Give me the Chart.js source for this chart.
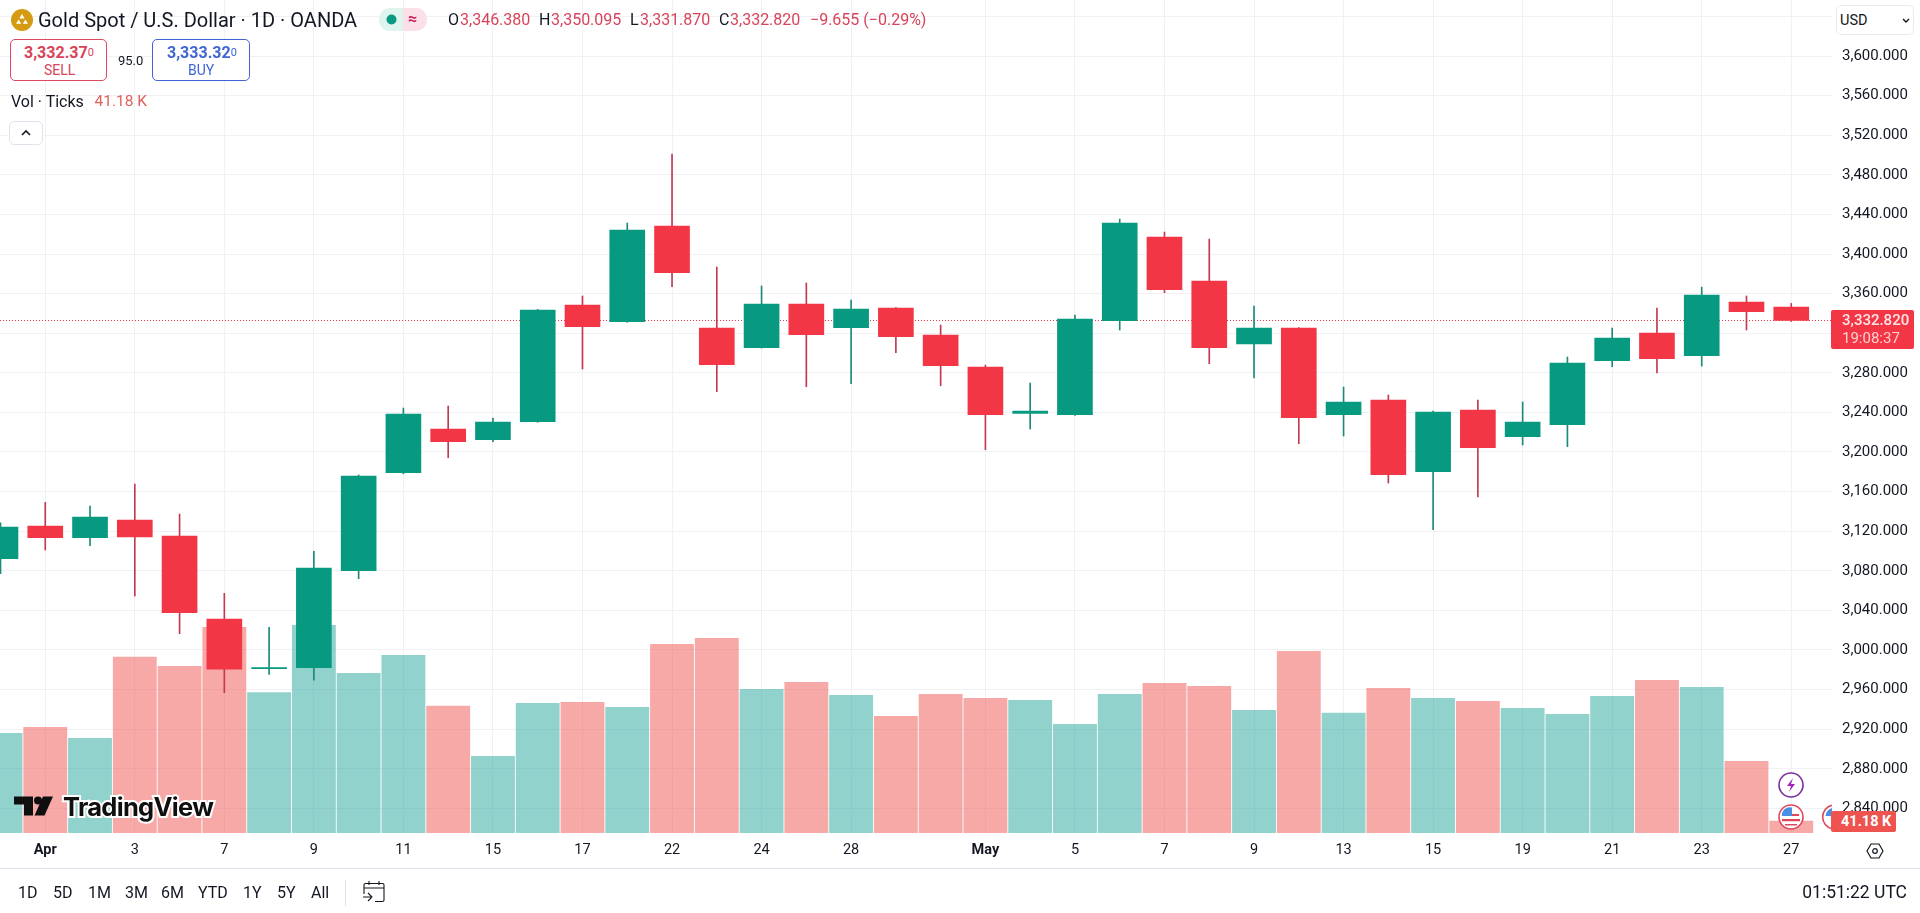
<!DOCTYPE html>
<html>
<head>
<meta charset="utf-8">
<title>Gold Spot / U.S. Dollar</title>
<script src="https://cdn.jsdelivr.net/npm/chart.js@4"></script>
<style>
html,body{margin:0;padding:0;background:#fff;width:1920px;height:913px;overflow:hidden;font-family:Roboto,sans-serif;color:#131722}
#wrap{position:relative;width:1920px;height:913px}
canvas{position:absolute;left:0;top:0;display:block}
.t{position:absolute;white-space:nowrap;line-height:1;transform:translateY(-50%)}
.box{position:absolute;box-sizing:border-box;background:#fff;border-radius:5px}
svg.i{position:absolute;overflow:visible}
.red{color:#d9435a}
</style>
</head>
<body>
<div id="wrap">
<canvas id="c" width="1920" height="913"></canvas>

<svg class="i" style="left:11px;top:9px" width="22" height="22" viewBox="0 0 22 22"><circle cx="11" cy="11" r="11" fill="#d49a12"/><path d="M11 5l2.6 4.4H8.4zM7.6 10.4l2.6 4.4H5zM14.4 10.4l2.6 4.4h-5.2z" fill="#fff"/></svg>
<div class="t" style="left:38px;top:20px;font-size:20px">Gold Spot / U.S. Dollar · 1D · OANDA</div>
<div class="box" style="left:379px;top:8px;width:24px;height:23px;background:#dff3ef;border-radius:11px 0 0 11px"></div>
<div class="box" style="left:403px;top:8px;width:24px;height:23px;background:#fbe0e7;border-radius:0 11px 11px 0"></div>
<svg class="i" style="left:386px;top:14px" width="11" height="11"><circle cx="5.5" cy="5.5" r="5" fill="#089981"/></svg>
<div class="t" style="left:408px;top:19px;font-size:16px;color:#c2185b;font-weight:700">≈</div>

<div class="t" style="left:448px;top:20px;font-size:16px">O</div><div class="t red" style="left:460px;top:20px;font-size:16px">3,346.380</div>
<div class="t" style="left:539px;top:20px;font-size:16px">H</div><div class="t red" style="left:551px;top:20px;font-size:16px">3,350.095</div>
<div class="t" style="left:630px;top:20px;font-size:16px">L</div><div class="t red" style="left:640px;top:20px;font-size:16px">3,331.870</div>
<div class="t" style="left:719px;top:20px;font-size:16px">C</div><div class="t red" style="left:730px;top:20px;font-size:16px">3,332.820</div>
<div class="t red" style="left:810px;top:20px;font-size:16px">−9.655 (−0.29%)</div>

<div class="box" style="left:10px;top:39px;width:97px;height:42px;border:1px solid #dc4a62"></div>
<div class="t red" style="left:24px;top:53px;font-size:16px;font-weight:700">3,332.37<span style="font-size:11px;font-weight:400;position:relative;top:-2px">0</span></div>
<div class="t red" style="left:44px;top:70px;font-size:14px">SELL</div>
<div class="t" style="left:118px;top:60px;font-size:13px">95.0</div>
<div class="box" style="left:152px;top:39px;width:98px;height:42px;border:1px solid #3f66d4"></div>
<div class="t" style="left:167px;top:53px;font-size:16px;font-weight:700;color:#3f66d4">3,333.32<span style="font-size:11px;font-weight:400;position:relative;top:-2px">0</span></div>
<div class="t" style="left:188px;top:70px;font-size:14px;color:#3f66d4">BUY</div>

<div class="t" style="left:11px;top:102px;font-size:16px">Vol · Ticks</div>
<div class="t" style="left:94.500px;top:102px;font-size:15.500px;color:#e0605c">41.18 K</div>
<div class="box" style="left:9px;top:121px;width:34px;height:24px;border:1px solid #e0e3eb"></div>
<svg class="i" style="left:21px;top:129px" width="10" height="7"><path d="M1 6l4-4 4 4" fill="none" stroke="#131722" stroke-width="1.6"/></svg>

<div class="box" style="left:1836px;top:5px;width:78px;height:30px;border:1px solid #e8eaf0"></div>
<div class="t" style="left:1840px;top:21px;font-size:14.500px">USD</div>
<svg class="i" style="left:1902px;top:18px" width="8" height="6"><path d="M1 1l3 3 3-3" fill="none" stroke="#131722" stroke-width="1.4"/></svg>

<div class="box" style="left:1831px;top:310px;width:83px;height:39px;background:#f23645;border-radius:2px"></div>
<div class="t" style="left:1842px;top:320px;font-size:15px;font-weight:500;color:#ffe6e6">3,332.820</div>
<div class="t" style="left:1842px;top:338px;font-size:15px;color:#ffd0d0">19:08:37</div>

<svg class="i" style="left:14px;top:795px" width="40" height="22" viewBox="0 0 40 22"><path d="M0 1.500h19v19H10V9.500H0z" fill="#0f0f0f"/><circle cx="24" cy="5.500" r="4" fill="#0f0f0f"/><path d="M29 1.500h10l-8.500 19H20.500z" fill="#0f0f0f"/></svg>
<div class="t" style="left:63px;top:807px;font-family:Inter,sans-serif;font-size:25.500px;font-weight:700;letter-spacing:-.7px;color:#0f0f0f;-webkit-text-stroke:4px #fff;paint-order:stroke fill">TradingView</div>

<svg class="i" style="left:1778px;top:772px" width="26" height="26" viewBox="0 0 26 26"><circle cx="13" cy="13" r="12" fill="#fff" stroke="#7b2d9e" stroke-width="1.6"/><path d="M15 6l-6 8h4l-2 6 6-8h-4z" fill="#9c27b0"/></svg>
<svg class="i" style="left:1778px;top:804px" width="26" height="26" viewBox="0 0 26 26"><circle cx="13" cy="13" r="12" fill="#fff" stroke="#e0455a" stroke-width="1.6"/><path d="M5 10h16v2H5zM4 15h18v2.200H4zM7 20h12v1.600H7z" fill="#e0455a"/><path d="M6 5.500A9.500 9.500 0 0 1 14 3.500V12H3.800A9.500 9.500 0 0 1 6 5.500z" fill="#4a90e2"/></svg>
<svg class="i" style="left:1822px;top:804px" width="10" height="26" viewBox="0 0 10 26"><path d="M10 1.300A12 12 0 0 0 10 24.700" fill="#fff" stroke="#e0455a" stroke-width="1.6"/><path d="M10 4A9.500 9.500 0 0 0 3.500 12H10z" fill="#4a90e2"/></svg>

<div class="box" style="left:1831px;top:811px;width:65px;height:21px;background:#ef5350;border-radius:2px"></div>
<div class="t" style="left:1841px;top:822px;font-size:14.500px;font-weight:700;color:#fff">41.18 K</div>

<svg class="i" style="left:1866px;top:843px" width="18" height="16" viewBox="0 0 18 16"><path d="M5 1h8l4 7-4 7H5L1 8z" fill="none" stroke="#131722" stroke-width="1.2"/><circle cx="9" cy="8" r="2.300" fill="none" stroke="#131722" stroke-width="1.200"/></svg>

<div class="box" style="left:0;top:868px;width:1920px;height:1px;background:#e0e3eb;border-radius:0"></div>
<div class="t" style="left:18px;top:893px;font-size:16px">1D</div>
<div class="t" style="left:53px;top:893px;font-size:16px">5D</div>
<div class="t" style="left:88px;top:893px;font-size:16px">1M</div>
<div class="t" style="left:125px;top:893px;font-size:16px">3M</div>
<div class="t" style="left:161px;top:893px;font-size:16px">6M</div>
<div class="t" style="left:198px;top:893px;font-size:16px">YTD</div>
<div class="t" style="left:243px;top:893px;font-size:16px">1Y</div>
<div class="t" style="left:277px;top:893px;font-size:16px">5Y</div>
<div class="t" style="left:311px;top:893px;font-size:16px">All</div>
<div class="box" style="left:345px;top:880px;width:1px;height:26px;background:#e0e3eb;border-radius:0"></div>
<svg class="i" style="left:362px;top:880px" width="24" height="24" viewBox="0 0 24 24"><path d="M2 14V5q0-1.500 1.500-1.500h17Q22 3.500 22 5v15q0 1.500-1.500 1.500H13M2 8h20M7 1v4M17 1v4M1 17h8M6 13l4 4-4 4" fill="none" stroke="#131722" stroke-width="1.100"/></svg>
<div class="t" style="right:13px;top:893px;font-size:17.500px">01:51:22 UTC</div>
</div>

<script>
const dates = ["Mar 31","Apr 1","Apr 2","Apr 3","Apr 4","Apr 7","Apr 8","Apr 9","Apr 10","Apr 11","Apr 14","Apr 15","Apr 16","Apr 17","Apr 21","Apr 22","Apr 23","Apr 24","Apr 25","Apr 28","Apr 29","Apr 30","May 1","May 2","May 5","May 6","May 7","May 8","May 9","May 12","May 13","May 14","May 15","May 16","May 19","May 20","May 21","May 22","May 23","May 26","May 27"];
const opens  = [3092.2,3125.2,3113.4,3131.3,3115.1,3031.3,2981.0,2982.1,3080.0,3179.0,3223.2,3212.4,3230.6,3348.5,3331.6,3428.3,3325.2,3305.3,3349.5,3325.5,3345.4,3318.2,3285.8,3238.9,3237.6,3332.6,3417.2,3372.7,3309.1,3325.2,3237.6,3252.5,3180.1,3242.4,3215.4,3227.5,3292.2,3320.2,3297.2,3351.5,3346.38];
const highs  = [3128.5,3149.1,3145.4,3167.6,3137.3,3057.2,3022.9,3099.6,3176.7,3244.4,3246.4,3234.3,3344.0,3357.6,3431.3,3501.0,3386.8,3367.7,3370.7,3353.5,3345.8,3328.3,3287.8,3269.7,3338.4,3435.3,3422.2,3415.1,3347.4,3325.6,3265.6,3257.5,3241.4,3252.5,3250.5,3295.9,3325.2,3345.4,3366.6,3357.6,3350.095];
const lows   = [3077.0,3101.0,3105.3,3054.5,3016.4,2956.8,2975.4,2969.6,3072.0,3178.0,3194.2,3210.4,3230.0,3283.8,3331.0,3367.0,3260.9,3305.0,3265.9,3269.0,3300.3,3266.9,3202.3,3223.2,3237.0,3323.2,3360.9,3289.2,3274.7,3208.3,3216.1,3168.6,3121.5,3154.5,3207.0,3205.3,3286.1,3279.8,3286.8,3323.2,3331.87];
const closes = [3124.2,3113.4,3134.3,3114.1,3037.6,2980.7,2982.1,3082.8,3175.7,3238.4,3210.4,3230.3,3343.4,3326.5,3424.2,3381.1,3288.1,3349.5,3318.5,3344.4,3316.4,3287.1,3237.6,3241.4,3334.3,3431.3,3363.9,3305.3,3325.2,3234.6,3250.5,3177.0,3240.4,3204.3,3230.3,3289.9,3315.1,3294.2,3358.6,3341.7,3332.82];
const volumes = [342,362,325,603,572,705,482,712,548,609,435,263,445,448,431,647,668,493,517,472,400,476,462,455,373,476,513,503,421,623,411,496,462,452,428,407,469,524,500,246,41.18];
const tickIndexes = [1,3,5,7,9,11,13,15,17,19,22,24,26,28,30,32,34,36,38,40];
const tickLabels = ["Apr","3","7","9","11","15","17","22","24","28","May","5","7","9","13","15","19","21","23","27"];
const priceTicks = [2840,2880,2920,2960,3000,3040,3080,3120,3160,3200,3240,3280,3320,3360,3400,3440,3480,3520,3560,3600,3640];

const UP = "#089981", DOWN = "#f23645";
const isUp = i => closes[i] >= opens[i];
const idx = dates.map((_, i) => i);
const xMin = -0.011, xMax = 40.91;
const lastClose = closes[closes.length - 1];

new Chart(document.getElementById("c"), {
  type: "bar",
  data: {
    datasets: [
      { label: "Volume", yAxisID: "yVol", order: 4, barThickness: 43.2,
        data: idx.map(i => ({ x: i, y: volumes[i] })),
        backgroundColor: idx.map(i => isUp(i) ? "rgba(38,166,154,0.5)" : "rgba(239,83,80,0.5)") },
      { label: "Last price", type: "line", yAxisID: "y", order: 3,
        data: [{ x: xMin, y: lastClose }, { x: xMax, y: lastClose }],
        borderColor: DOWN, borderWidth: 1, borderDash: [1, 2], pointRadius: 0, fill: false },
      { label: "Wick", yAxisID: "y", order: 2, barThickness: 1,
        data: idx.map(i => ({ x: i, y: [lows[i], highs[i]] })),
        backgroundColor: idx.map(i => isUp(i) ? "#1c8a78" : "#c23a50") },
      { label: "Body", yAxisID: "y", order: 1, barThickness: 35,
        data: idx.map(i => ({ x: i, y: [opens[i], closes[i]] })),
        backgroundColor: idx.map(i => isUp(i) ? UP : DOWN) }
    ]
  },
  options: {
    responsive: false, animation: false, events: [],
    layout: { padding: 0 },
    datasets: { bar: { grouped: false, borderWidth: 0, borderSkipped: false } },
    plugins: { legend: { display: false }, tooltip: { enabled: false } },
    scales: {
      x: {
        type: "linear", offset: false, min: xMin, max: xMax,
        grid: { offset: false, color: "#f0f1f5", drawTicks: false, lineWidth: 1 },
        border: { display: false },
        afterBuildTicks: s => { s.ticks = tickIndexes.map(v => ({ value: v })); },
        afterFit: s => { s.height = 80; s.paddingLeft = 0; s.paddingRight = 0; },
        ticks: {
          autoSkip: false, maxRotation: 0, padding: 9, color: "#131722",
          callback: v => tickLabels[tickIndexes.indexOf(v)],
          font: c => ({ family: "Roboto", size: 14.5,
            weight: (c.index === 0 || c.index === 10) ? "700" : "400" })
        }
      },
      y: {
        position: "right", min: 2815.1, max: 3656.6,
        grid: { color: "#f0f1f5", drawTicks: false, lineWidth: 1 },
        border: { display: false },
        afterBuildTicks: s => { s.ticks = priceTicks.map(v => ({ value: v })); },
        afterFit: s => { s.width = 88; s.paddingTop = 0; s.paddingBottom = 0; },
        ticks: {
          padding: 10, color: "#131722", font: { family: "Roboto", size: 15 },
          callback: v => v === 3640 ? "" : v.toLocaleString("en-US", { minimumFractionDigits: 3 })
        }
      },
      yVol: { display: false, position: "left", min: 0, max: 2857, grid: { display: false } }
    }
  }
});
</script>
</body>
</html>
